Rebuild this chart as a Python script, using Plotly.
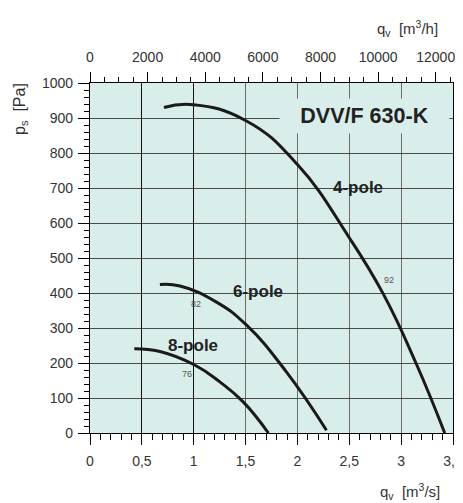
import plotly.graph_objects as go

# ---- data ----
q_4pole = [0.713, 1.0, 1.5, 2.0, 2.5, 2.83, 3.15, 3.42]
p_4pole = [930, 938, 893, 767, 558, 396, 195, 0]
q_6pole = [0.674, 0.867, 1.22, 1.51, 1.895, 2.28]
p_6pole = [424, 420, 374, 308, 174, 8]
q_8pole = [0.427, 0.674, 1.005, 1.252, 1.477, 1.72]
p_8pole = [241, 233, 195, 146, 89, 0]

x_tickvals = [0, 0.5, 1, 1.5, 2, 2.5, 3, 3.5]
x_ticktext = ["0", "0,5", "1", "1,5", "2", "2,5", "3", "3,5"]
x2_tickvals = [0, 2000, 4000, 6000, 8000, 10000, 12000]
x2_ticktext = ["0", "2000", "4000", "6000", "8000", "10000", "12000"]
y_tickvals = [0, 100, 200, 300, 400, 500, 600, 700, 800, 900, 1000]
y_ticktext = [str(v) for v in y_tickvals]

curve_labels = ["4-pole", "6-pole", "8-pole"]
label_pos = [(2.58, 701), (1.62, 405), (0.99, 249)]
eff_labels = ["92", "82", "76"]
eff_pos = [(2.88, 436), (1.02, 368), (0.94, 168)]

BG = "#d9eeea"
FONT = "Liberation Sans, Arial, sans-serif"
TICKCOL = "#333333"

# page body has an 8px margin: figure is drawn from (8, 8) in the window
OFF = 8
W, H = 463 - OFF, 503 - OFF
L, R, T, B = 90 - OFF, 10, 83 - OFF, 70

fig = go.Figure()
for q, p in [(q_4pole, p_4pole), (q_6pole, p_6pole), (q_8pole, p_8pole)]:
    fig.add_trace(go.Scatter(x=q, y=p, mode="lines",
                             line=dict(color="#1a1a1a", width=3, shape="spline", smoothing=1.3),
                             showlegend=False, hoverinfo="skip"))
# invisible traces to activate the secondary x axes
fig.add_trace(go.Scatter(x=[0, 12600], y=[0, 0], xaxis="x2", mode="markers", marker=dict(opacity=0),
                         showlegend=False, hoverinfo="skip"))
fig.add_trace(go.Scatter(x=[0, 3.5], y=[0, 0], xaxis="x3", mode="markers", marker=dict(opacity=0),
                         showlegend=False, hoverinfo="skip"))

fig.update_layout(
    width=W, height=H,
    margin=dict(l=L, r=R, t=T, b=B, autoexpand=False),
    paper_bgcolor="white", plot_bgcolor=BG,
    font=dict(family=FONT, size=14, color=TICKCOL),
    xaxis=dict(range=[0, 3.5], tickvals=x_tickvals, ticktext=x_ticktext,
               showgrid=True, gridcolor="#6b6b6b", gridwidth=1.3,
               ticks="outside", ticklen=11, tickwidth=1.3, tickcolor="black",
               minor=dict(dtick=0.1, ticks="outside", ticklen=6, tickcolor="black", showgrid=False),
               showline=True, linecolor="black", linewidth=1.3, zeroline=False,
               ticklabelstandoff=4, fixedrange=True),
    xaxis2=dict(range=[0, 12600], overlaying="x", side="top", tickvals=x2_tickvals, ticktext=x2_ticktext,
                showgrid=False, ticks="outside", ticklen=10, tickwidth=1.3, tickcolor="black",
                minor=dict(dtick=500, ticks="outside", ticklen=5, tickcolor="black"),
                showline=True, linecolor="black", linewidth=1.3, zeroline=False,
                ticklabelstandoff=4, fixedrange=True),
    xaxis3=dict(range=[0, 3.5], overlaying="x", tickvals=[0.5, 1.0], showticklabels=False, ticks="",
                showgrid=True, gridcolor="#111111", gridwidth=1.3, showline=False, zeroline=False,
                fixedrange=True),
    yaxis=dict(range=[0, 1000], tickvals=y_tickvals, ticktext=y_ticktext,
               showgrid=True, gridcolor="#4a4a4a", gridwidth=1.3,
               ticks="outside", ticklen=11, tickwidth=1.3, tickcolor="black",
               minor=dict(dtick=20, ticks="outside", ticklen=5, tickcolor="black", showgrid=False),
               showline=True, linecolor="black", linewidth=1.3, mirror=True, zeroline=False,
               ticklabelstandoff=2, fixedrange=True),
)

annotations = []
for txt, (x, y) in zip(curve_labels, label_pos):
    annotations.append(dict(x=x, y=y, xref="x", yref="y", text=f"<b>{txt}</b>", showarrow=False,
                            xanchor="center", yanchor="middle",
                            font=dict(family=FONT, size=17, color="#222222")))
for txt, (x, y) in zip(eff_labels, eff_pos):
    annotations.append(dict(x=x, y=y, xref="x", yref="y", text=txt, showarrow=False,
                            xanchor="center", yanchor="middle",
                            font=dict(family=FONT, size=9, color="#555555")))
annotations.append(dict(x=2.65, y=905, xref="x", yref="y", text="<b>DVV/F 630-K</b>", showarrow=False,
                        xanchor="center", yanchor="middle",
                        font=dict(family=FONT, size=21.5, color="#222222"), bgcolor=BG,
                        width=167, height=32, align="center"))

# axis titles, positioned by window pixel centre
titles = [
    ("p<sub>s</sub>&nbsp;&nbsp;[Pa]", 20, 109, -90, 16),
    ("q<sub>v</sub>&nbsp;&nbsp;[m<sup>3</sup>/h]", 407, 28, 0, 15),
    ("q<sub>v</sub>&nbsp;&nbsp;[m<sup>3</sup>/s]", 410, 491, 0, 15),
]
pw, ph = W - L - R, H - T - B
for txt, px, py, ang, sz in titles:
    fx, fy = px - OFF, py - OFF
    annotations.append(dict(x=(fx - L) / pw, y=1 - (fy - T) / ph, xref="paper", yref="paper",
                            text=txt, showarrow=False, textangle=ang,
                            xanchor="center", yanchor="middle",
                            font=dict(family=FONT, size=sz, color=TICKCOL)))
fig.update_layout(annotations=annotations)

fig.write_html("out.html")
